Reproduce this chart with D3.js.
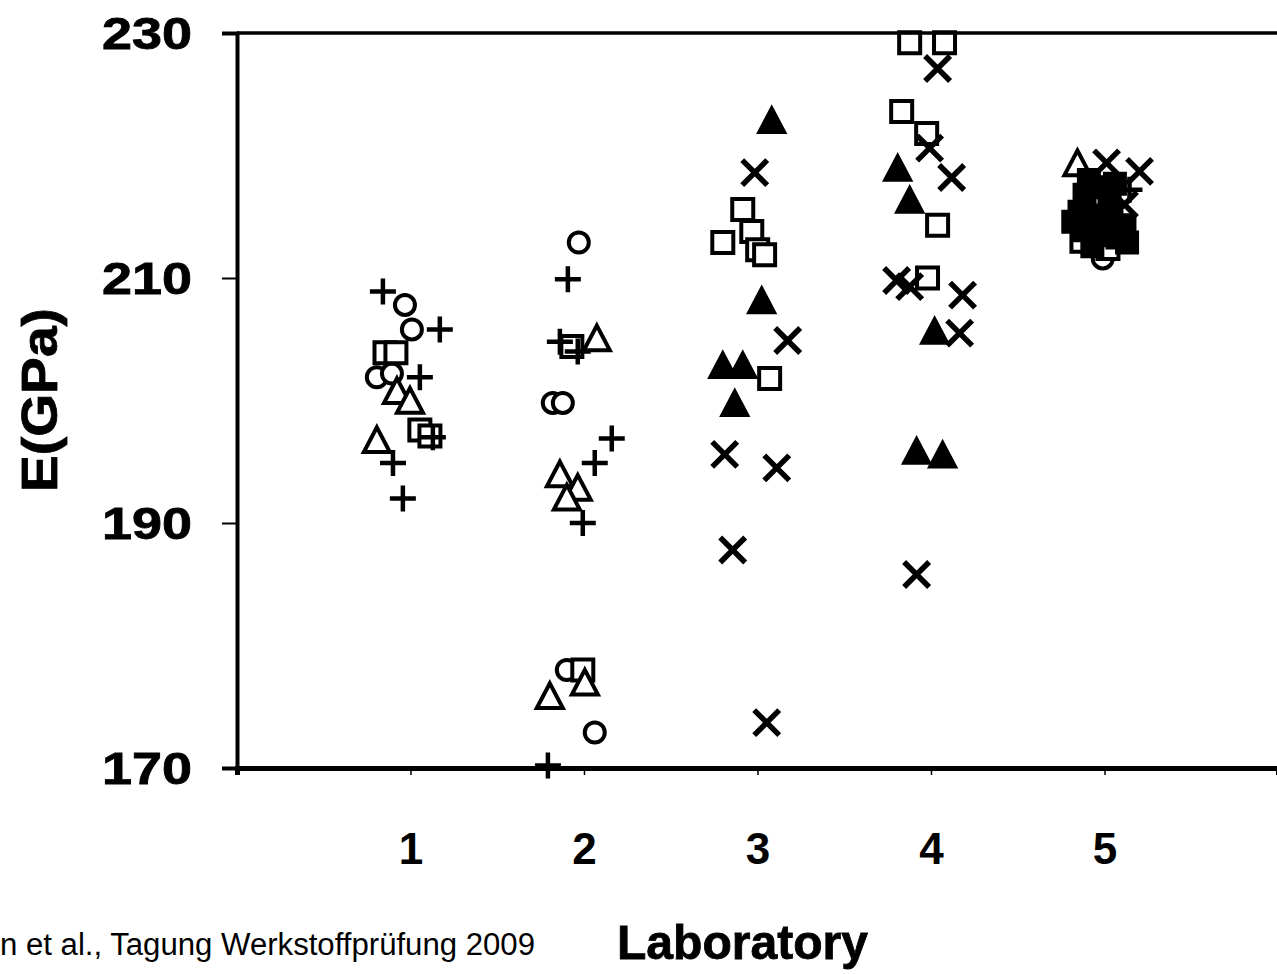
<!DOCTYPE html>
<html>
<head>
<meta charset="utf-8">
<script src="https://cdn.jsdelivr.net/npm/d3@7"></script>
<style>
  html, body { margin: 0; padding: 0; background: #fff; }
  svg { display: block; }
  text { font-family: "Liberation Sans", Arial, Helvetica, sans-serif; fill: #000; }
</style>
</head>
<body>
<svg id="chart" width="1277" height="974"></svg>
<script>
// Laboratory positions on the x axis and Young's modulus ticks
const labs = [1, 2, 3, 4, 5];
const xTickValues = [0, 1, 2, 3, 4, 5];
const yTicks = [170, 190, 210, 230];

// Measurements: [position along the laboratory axis (with spread), E in GPa]
const openCircle = [
  [0.968, 207.8], [1.008, 205.8], [0.806, 201.9], [0.893, 202.2],
  [1.970, 212.9], [1.820, 199.8], [1.878, 199.8], [1.901, 178.0], [2.062, 172.9],
  [4.990, 211.6]
];
const plusMark = [
  [0.841, 208.9], [1.169, 205.8], [1.054, 201.9], [1.129, 197.0], [0.899, 194.9], [0.956, 192.0],
  [1.907, 209.9], [1.861, 204.8], [1.964, 204.0], [2.160, 196.9], [2.062, 194.9], [1.993, 190.0], [1.792, 170.2],
  [5.144, 217.2]
];
const openSquare = [
  [0.853, 203.9], [0.916, 203.9], [1.054, 197.6], [1.112, 197.1],
  [1.930, 204.4], [1.993, 178.0],
  [2.915, 215.6], [2.800, 212.9], [2.967, 213.8], [3.001, 212.3], [3.041, 211.9], [3.070, 201.8],
  [3.877, 229.2], [4.078, 229.2], [3.831, 223.6], [3.975, 221.8], [4.038, 214.3], [3.980, 210.0],
  [4.870, 213.0], [5.020, 212.4]
];
const openTriangle = [
  [0.922, 200.6], [0.997, 199.8], [0.806, 196.6],
  [2.074, 204.9], [1.861, 193.8], [1.964, 192.7], [1.901, 191.9], [1.803, 175.7], [2.005, 176.8],
  [4.844, 219.2]
];
const filledTriangle = [
  [3.082, 222.7], [3.024, 208.0], [2.800, 202.7], [2.915, 202.7], [2.869, 199.6],
  [3.808, 218.8], [3.877, 216.2], [4.021, 205.5], [3.917, 195.7], [4.067, 195.4]
];
const crossMark = [
  [2.984, 218.6], [3.174, 204.9], [2.811, 195.6], [3.111, 194.5], [2.857, 187.8], [3.053, 173.7],
  [4.038, 227.1], [3.992, 220.6], [4.119, 218.2], [3.802, 209.8], [3.877, 209.3], [4.182, 208.6], [4.165, 205.5], [3.917, 185.8],
  [5.012, 219.4], [5.202, 218.7], [5.115, 216.0]
];
const filledSquare = [
  [4.885, 216.8], [4.960, 217.4], [5.029, 216.4], [4.856, 215.4], [4.942, 215.1],
  [5.040, 214.6], [4.885, 213.9], [4.971, 213.5], [5.075, 213.3], [5.115, 214.3],
  [4.820, 214.6], [5.130, 212.9], [4.930, 212.6], [5.060, 217.7], [4.910, 218.0]
];

const svg = d3.select("#chart");
const plotLeft = 237, plotRight = 1278, plotTop = 33, plotBottom = 768;

const x = d3.scaleLinear().domain([0, 6]).range([plotLeft, plotRight]);
const y = d3.scaleLinear().domain([170, 230]).range([plotBottom, plotTop]);

// Marker path generators (centered at 0,0)
const shapes = {
  circle: r => `M${-r},0A${r},${r} 0 1,0 ${r},0A${r},${r} 0 1,0 ${-r},0Z`,
  square: s => `M${-s/2},${-s/2}H${s/2}V${s/2}H${-s/2}Z`,
  triangle: s => { const h = s * 0.95; return `M0,${-h*0.6}L${s/2},${h*0.4}L${-s/2},${h*0.4}Z`; },
  plus: a => `M${-a},0H${a}M0,${-a}V${a}`,
  cross: a => `M${-a},${-a}L${a},${a}M${a},${-a}L${-a},${a}`
};

const markerGroup = svg.append("g").attr("class", "markers");

function drawSeries(data, cls, d, fill, strokeWidth) {
  markerGroup.append("g").attr("class", cls)
    .selectAll("path").data(data).join("path")
    .attr("transform", p => `translate(${x(p[0])},${y(p[1])})`)
    .attr("d", d)
    .attr("fill", fill)
    .attr("stroke", "#000")
    .attr("stroke-width", strokeWidth)
    .attr("stroke-linejoin", "miter");
}

drawSeries(openCircle, "open-circle", shapes.circle(10), "#fff", 4);
drawSeries(openSquare, "open-square", shapes.square(21), "#fff", 4);
drawSeries(openTriangle, "open-triangle", shapes.triangle(26), "#fff", 4);
drawSeries(filledTriangle, "filled-triangle", shapes.triangle(28), "#000", 2);
drawSeries(filledSquare, "filled-square", shapes.square(22), "#000", 2);
drawSeries(plusMark, "plus", shapes.plus(13), "none", 4.5);
drawSeries(crossMark, "cross", shapes.cross(12.5), "none", 5.5);

// Frame: top border line
svg.append("line")
  .attr("x1", plotLeft).attr("x2", plotRight).attr("y1", plotTop).attr("y2", plotTop)
  .attr("stroke", "#000").attr("stroke-width", 3.5);

// Y axis
const yAxis = svg.append("g")
  .attr("transform", `translate(${plotLeft},0)`)
  .call(d3.axisLeft(y).tickValues(yTicks).tickSize(15).tickPadding(30).tickFormat(d3.format("d")));
yAxis.select(".domain").attr("stroke", "#000").attr("stroke-width", 4);
yAxis.selectAll(".tick line").attr("stroke", "#000").attr("stroke-width", 2);
yAxis.selectAll(".tick text")
  .attr("font-size", 44).attr("font-weight", "bold")
  .attr("stroke", "#000").attr("stroke-width", 0.8)
  .attr("textLength", 90).attr("lengthAdjust", "spacingAndGlyphs")
  .attr("dy", "0.36em");

// X axis
const xAxis = svg.append("g")
  .attr("transform", `translate(0,${plotBottom})`)
  .call(d3.axisBottom(x).tickValues(xTickValues).tickSizeOuter(0).tickSize(7).tickPadding(58)
    .tickFormat(d => labs.includes(d) ? String(d) : ""));
xAxis.select(".domain").attr("stroke", "#000").attr("stroke-width", 5);
xAxis.selectAll(".tick line").attr("stroke", "#000").attr("stroke-width", 1.5);
xAxis.selectAll(".tick text")
  .attr("font-size", 44).attr("font-weight", "bold");

// Axis titles
svg.append("text")
  .attr("transform", "translate(57,400) rotate(-90)")
  .attr("text-anchor", "middle")
  .attr("font-size", 50).attr("font-weight", "bold")
  .attr("stroke", "#000").attr("stroke-width", 0.8)
  .attr("textLength", 184).attr("lengthAdjust", "spacingAndGlyphs")
  .text("E(GPa)");

svg.append("text")
  .attr("x", 617).attr("y", 959)
  .attr("font-size", 48).attr("font-weight", "bold")
  .attr("stroke", "#000").attr("stroke-width", 0.8)
  .attr("textLength", 251).attr("lengthAdjust", "spacingAndGlyphs")
  .text("Laboratory");

// Source note
svg.append("text")
  .attr("x", 0).attr("y", 955)
  .attr("font-size", 31)
  .attr("textLength", 535).attr("lengthAdjust", "spacingAndGlyphs")
  .text("n et al., Tagung Werkstoffprüfung 2009");
</script>
</body>
</html>
